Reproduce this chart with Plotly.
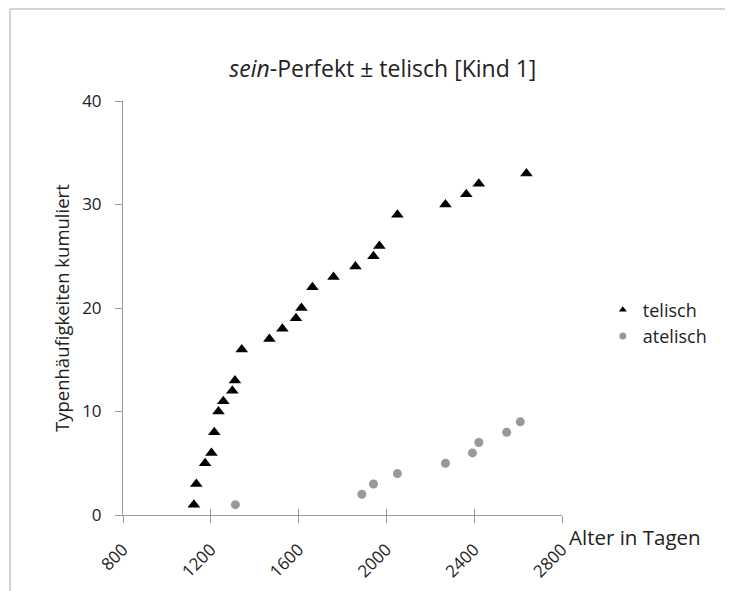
import plotly.graph_objects as go

# --- data ---
telisch_x = [1123, 1134, 1174, 1203, 1216, 1235, 1257, 1298, 1310, 1341,
             1467, 1526, 1588, 1613, 1663, 1759, 1859, 1941, 1968, 2050,
             2269, 2364, 2421, 2638]
telisch_y = [1, 3, 5, 6, 8, 10, 11, 12, 13, 16,
             17, 18, 19, 20, 22, 23, 24, 25, 26, 29,
             30, 31, 32, 33]
atelisch_x = [1312, 1888, 1941, 2050, 2269, 2392, 2421, 2548, 2610]
atelisch_y = [1, 2, 3, 4, 5, 6, 7, 8, 9]

x_ticks = [800, 1200, 1600, 2000, 2400, 2800]
y_ticks = [0, 10, 20, 30, 40]

title_text = "<i>sein</i>-Perfekt ± telisch [Kind 1]"
y_title = "Typenhäufigkeiten kumuliert"
x_title = "Alter in Tagen"

FONT = "Open Sans"
AX = "#9a9a9a"
TXT = "#222222"

# page has an 8px body margin; figure sized so it fits the 733x591 window
W, H = 725, 583
ML, MT = 115, 93
PW, PH = 439, 414
MR = W - ML - PW
MB = H - MT - PH

fig = go.Figure()
fig.add_trace(go.Scatter(
    x=telisch_x, y=telisch_y, mode="markers", name="telisch", showlegend=False,
    marker=dict(symbol="triangle-up", size=11, color="black"),
))
fig.add_trace(go.Scatter(
    x=atelisch_x, y=atelisch_y, mode="markers", name="atelisch", showlegend=False,
    marker=dict(symbol="circle", size=9, color="#999999"),
))
# legend entries (smaller symbols as in the reference)
fig.add_trace(go.Scatter(x=[None], y=[None], mode="markers", name="telisch",
                         marker=dict(symbol="triangle-up", size=7, color="black")))
fig.add_trace(go.Scatter(x=[None], y=[None], mode="markers", name="atelisch",
                         marker=dict(symbol="circle", size=7, color="#999999")))
# invisible trace to activate the overlay axis (inner half of cross ticks)
fig.add_trace(go.Scatter(x=[x_ticks[0]], y=[y_ticks[0]], xaxis="x2", mode="markers",
                         marker=dict(opacity=0), showlegend=False, hoverinfo="skip"))

fig.update_layout(
    width=W, height=H,
    margin=dict(l=ML, r=MR, t=MT, b=MB, pad=0, autoexpand=False),
    paper_bgcolor="white", plot_bgcolor="white",
    font=dict(family=FONT, color=TXT, size=14),
    title=dict(text=title_text, x=0.592, xref="paper", xanchor="center",
               y=1 - 61 / H, yref="container", yanchor="middle",
               font=dict(size=23, family=FONT, color=TXT)),
    showlegend=True,
    legend=dict(x=1.093, xanchor="left", y=0.54, yanchor="top",
                font=dict(size=18, family=FONT, color=TXT),
                itemsizing="trace", bgcolor="rgba(0,0,0,0)"),
    xaxis=dict(range=[800, 2800], tickvals=x_ticks, ticktext=[str(v) for v in x_ticks],
               tickangle=-45, showgrid=False, zeroline=False, automargin=False,
               showline=True, linecolor=AX, linewidth=1,
               ticks="outside", ticklen=7, tickcolor=AX, tickwidth=1,
               ticklabelstandoff=10,
               tickfont=dict(size=17, family=FONT, color=TXT)),
    xaxis2=dict(range=[800, 2800], overlaying="x", side="bottom", anchor="y",
                tickvals=x_ticks, showticklabels=False, showgrid=False, zeroline=False,
                automargin=False,
                showline=False, ticks="inside", ticklen=6, tickcolor=AX, tickwidth=1),
    yaxis=dict(range=[0, 40], tickvals=y_ticks, showgrid=False, zeroline=False,
               automargin=False,
               showline=True, linecolor=AX, linewidth=1,
               ticks="outside", ticklen=7, tickcolor=AX, tickwidth=1,
               ticklabelstandoff=10,
               tickfont=dict(size=17, family=FONT, color=TXT)),
)

fig.add_annotation(text=y_title, textangle=-90, xref="paper", yref="paper",
                   x=(53 - ML) / PW, y=0.5, xanchor="center", yanchor="middle",
                   showarrow=False, font=dict(size=18.5, family=FONT, color=TXT))
fig.add_annotation(text=x_title, xref="paper", yref="paper",
                   x=(559 - ML) / PW, y=(507 - 529) / PH, xanchor="left", yanchor="middle",
                   showarrow=False, font=dict(size=20.5, family=FONT, color=TXT))

# outer chart frame (cropped at right and bottom)
x_left = (2 - ML) / PW
x_right = (W - ML) / PW
y_top = (MT + PH - 1) / PH
y_bottom = (MT + PH - H) / PH
line = dict(color="#c4c4c4", width=1.5)
fig.add_shape(type="line", xref="paper", yref="paper", x0=x_left, x1=x_right,
              y0=y_top, y1=y_top, line=line)
fig.add_shape(type="line", xref="paper", yref="paper", x0=x_left, x1=x_left,
              y0=y_bottom, y1=y_top, line=line)

fig.write_html("out.html")
